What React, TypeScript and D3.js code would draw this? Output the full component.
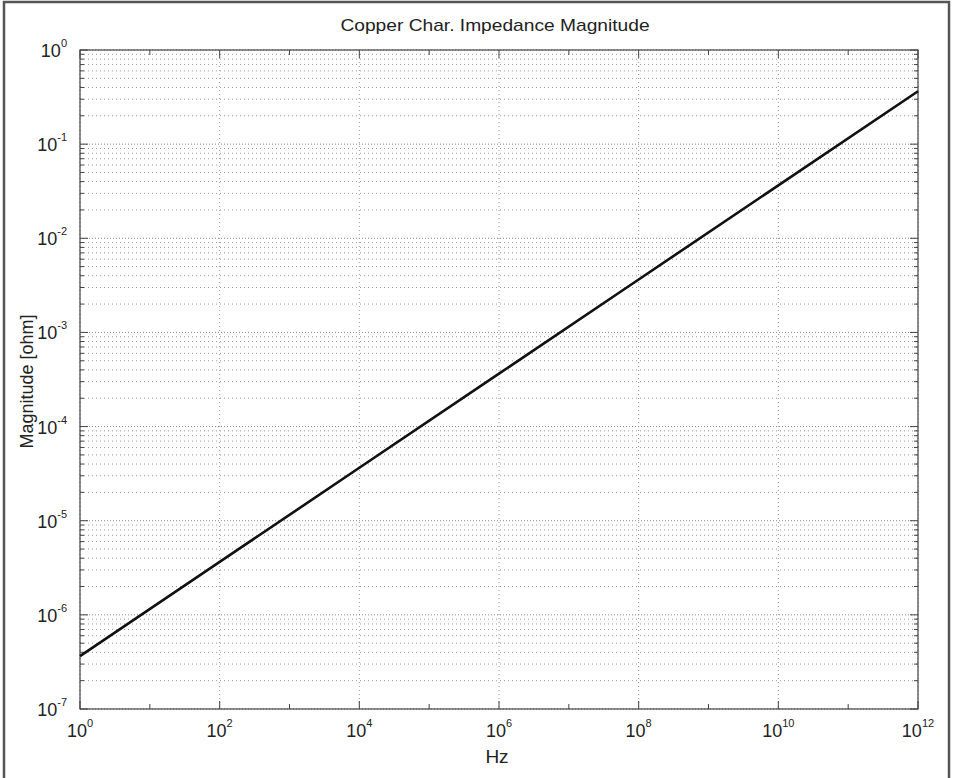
import React from "react";
import * as d3 from "d3";

const freqHz = [1e0, 1e2, 1e4, 1e6, 1e8, 1e10, 1e12];
const magnitudeOhm = [3.65e-7, 3.65e-6, 3.65e-5, 3.65e-4, 3.65e-3, 3.65e-2, 3.65e-1];
const xTickExps = [0, 2, 4, 6, 8, 10, 12];
const yTickExps = [-7, -6, -5, -4, -3, -2, -1, 0];

const W = 953, H = 778;
const M = { left: 80, right: 918, top: 50, bottom: 709 };
const FONT = "'Liberation Sans', Arial, sans-serif";

export default function App() {
  const x = d3.scaleLog().domain([1e0, 1e12]).range([M.left, M.right]);
  const y = d3.scaleLog().domain([1e-7, 1e0]).range([M.bottom, M.top]);
  const line = d3.line<number>().x((_, i) => x(freqHz[i])).y((d) => y(d));

  const allXDecades = d3.range(0, 13);
  const yMinor: number[] = [];
  for (let e = -7; e < 0; e++) for (let m = 2; m <= 9; m++) yMinor.push(m * Math.pow(10, e));

  return (
    <svg width={W} height={H} style={{ position: "absolute", left: 0, top: 0, background: "#fff" }}>
      <rect x={0} y={0} width={W} height={H} fill="#fff" />
      <rect x={4} y={2} width={945} height={790} fill="none" stroke="#555" strokeWidth={2.5} />
      {/* horizontal grid */}
      {yMinor.map((v, i) => (
        <line key={"ym" + i} x1={M.left} x2={M.right} y1={y(v)} y2={y(v)} stroke="#9a9a9a" strokeWidth={1} strokeDasharray="1,3" />
      ))}
      {yTickExps.map((e) => (
        <line key={"yg" + e} x1={M.left} x2={M.right} y1={y(Math.pow(10, e))} y2={y(Math.pow(10, e))} stroke="#888" strokeWidth={1} strokeDasharray="1,2" />
      ))}
      {/* vertical grid */}
      {xTickExps.map((e) => (
        <line key={"xg" + e} x1={x(Math.pow(10, e))} x2={x(Math.pow(10, e))} y1={M.top} y2={M.bottom} stroke="#9a9a9a" strokeWidth={1} strokeDasharray="1,3" />
      ))}
      {/* axes box */}
      <rect x={M.left} y={M.top} width={M.right - M.left} height={M.bottom - M.top} fill="none" stroke="#444" strokeWidth={1.2} />
      {/* x ticks */}
      {allXDecades.map((e) => {
        const len = e % 2 === 0 ? 8 : 5;
        const xv = x(Math.pow(10, e));
        return (
          <g key={"xt" + e}>
            <line x1={xv} x2={xv} y1={M.bottom} y2={M.bottom - len} stroke="#444" />
            <line x1={xv} x2={xv} y1={M.top} y2={M.top + len} stroke="#444" />
          </g>
        );
      })}
      {/* y ticks */}
      {yMinor.map((v, i) => (
        <g key={"ymt" + i}>
          <line x1={M.left} x2={M.left + 4} y1={y(v)} y2={y(v)} stroke="#444" />
          <line x1={M.right} x2={M.right - 4} y1={y(v)} y2={y(v)} stroke="#444" />
        </g>
      ))}
      {yTickExps.map((e) => (
        <g key={"yt" + e}>
          <line x1={M.left} x2={M.left + 8} y1={y(Math.pow(10, e))} y2={y(Math.pow(10, e))} stroke="#444" />
          <line x1={M.right} x2={M.right - 8} y1={y(Math.pow(10, e))} y2={y(Math.pow(10, e))} stroke="#444" />
        </g>
      ))}
      {/* data line */}
      <path d={line(magnitudeOhm) || ""} fill="none" stroke="#111" strokeWidth={2.6} />
      {/* x tick labels */}
      {xTickExps.map((e) => (
        <text key={"xl" + e} x={x(Math.pow(10, e))} y={737} textAnchor="middle" fontFamily={FONT} fontSize={18} fill="#222">
          10<tspan dy={-10} fontSize={11}>{e}</tspan>
        </text>
      ))}
      {/* y tick labels */}
      {yTickExps.map((e) => (
        <text key={"yl" + e} x={67} y={y(Math.pow(10, e)) + 7} textAnchor="end" fontFamily={FONT} fontSize={18} fill="#222">
          10<tspan dy={-10} fontSize={11}>{e}</tspan>
        </text>
      ))}
      {/* axis labels & title */}
      <text x={497} y={763} textAnchor="middle" fontFamily={FONT} fontSize={19} fill="#222">Hz</text>
      <text transform={`translate(33,${(M.top + M.bottom) / 2 + 2}) rotate(-90)`} textAnchor="middle" fontFamily={FONT} fontSize={18} fill="#222">Magnitude [ohm]</text>
      <text transform="translate(495,31) scale(1.2,1)" textAnchor="middle" fontFamily={FONT} fontSize={16} fill="#222">Copper Char. Impedance Magnitude</text>
    </svg>
  );
}
